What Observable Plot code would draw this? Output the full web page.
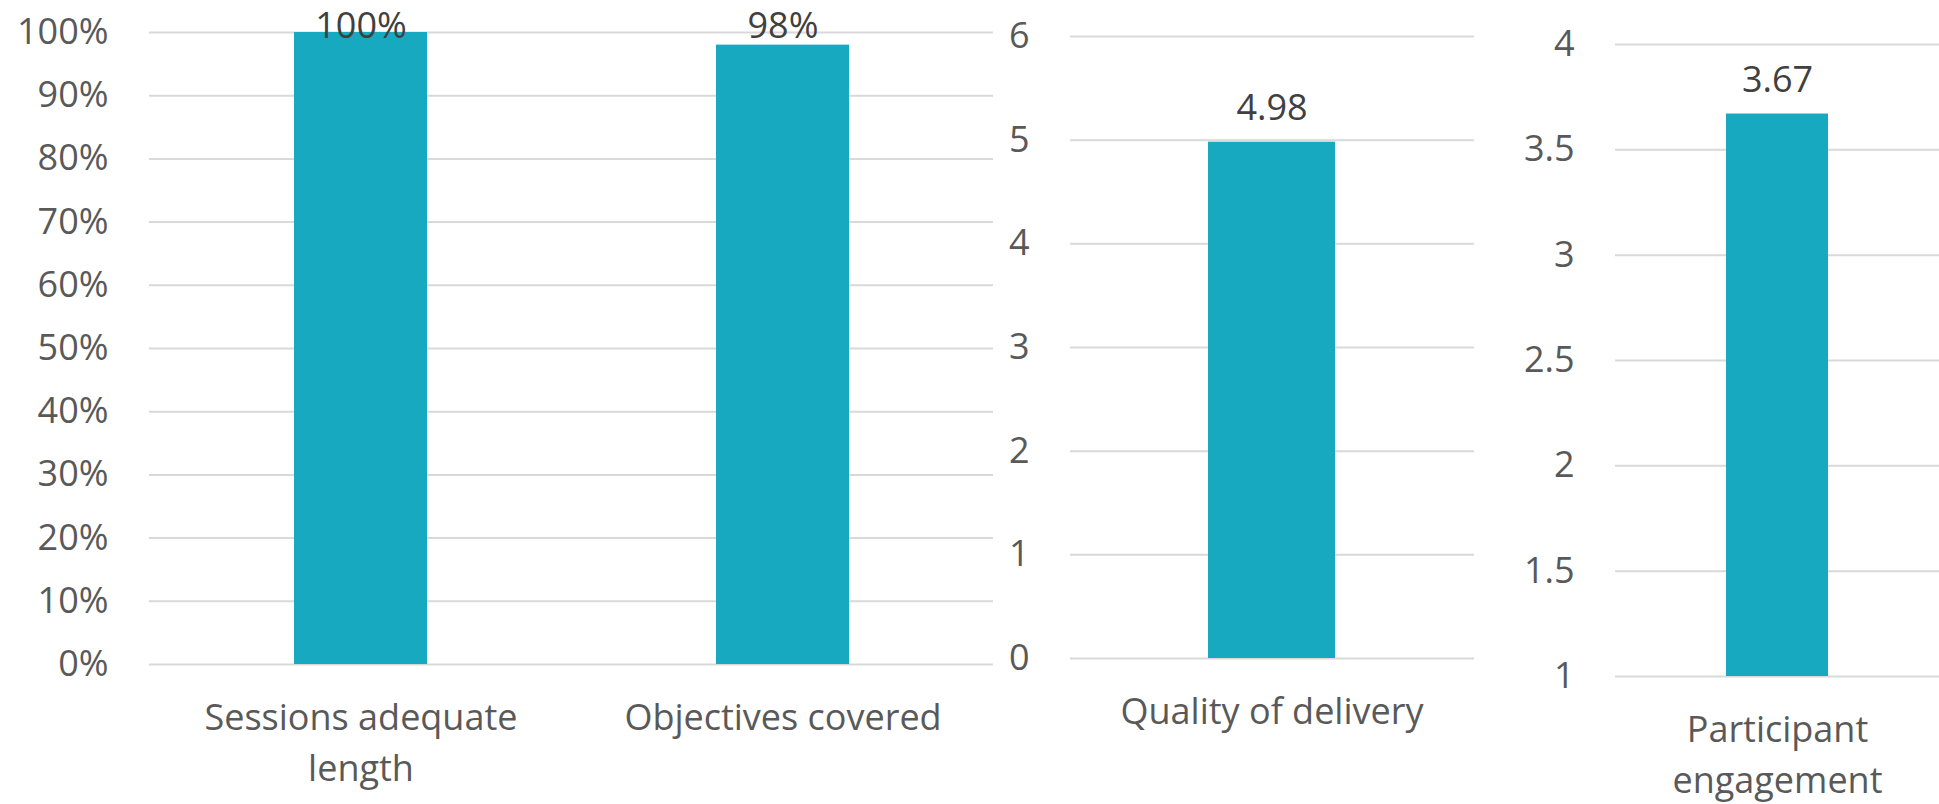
<!DOCTYPE html>
<html>
<head>
<meta charset="utf-8">
<script src="https://cdn.jsdelivr.net/npm/d3@7"></script>
<script src="https://cdn.jsdelivr.net/npm/@observablehq/plot@0.6"></script>
<style>
  html, body { margin: 0; padding: 0; background: #ffffff; }
  #chart { position: relative; width: 1939px; height: 804px; overflow: hidden; }
  #chart svg { position: absolute; top: 0; }
</style>
</head>
<body>
<div id="chart"></div>
<script>
// Session feedback: share of yes answers, and two mean ratings
const percentCategories = ["Sessions adequate length", "Objectives covered"];
const percentValues = [1.00, 0.98];
const percentTicks = [0, 0.1, 0.2, 0.3, 0.4, 0.5, 0.6, 0.7, 0.8, 0.9, 1.0];

const deliveryCategories = ["Quality of delivery"];
const deliveryValues = [4.98];
const deliveryTicks = [0, 1, 2, 3, 4, 5, 6];

const engagementCategories = ["Participant engagement"];
const engagementValues = [3.67];
const engagementTicks = [1, 1.5, 2, 2.5, 3, 3.5, 4];

// Category labels as they wrap under each bar
const categoryLabels = {
  "Sessions adequate length": "Sessions adequate\nlength",
  "Objectives covered": "Objectives covered",
  "Quality of delivery": "Quality of delivery",
  "Participant engagement": "Participant\nengagement"
};

const BAR = "#17a9bf";
const GRID = "#d9d9d9";
const AXIS_TEXT = "#595959";
const LABEL_TEXT = "#404040";
const FONT = "'Open Sans', 'Noto Sans', sans-serif";

function panel({categories, values, ticks, tickFormat, labelFormat, left, width,
                marginLeft, marginRight, marginTop, marginBottom, clampLabels}) {
  const data = categories.map((c, i) => ({category: c, value: values[i]}));
  const base = ticks[0];
  const valueLabel = clampLabels
    ? Plot.text(data, {x: "category", frameAnchor: "top", lineAnchor: "bottom", dy: 5,
                       text: d => labelFormat(d.value), fill: LABEL_TEXT})
    : Plot.text(data, {x: "category", y: "value", lineAnchor: "bottom", dy: -22,
                       text: d => labelFormat(d.value), fill: LABEL_TEXT});
  const svg = Plot.plot({
    width, height: 804,
    marginLeft, marginRight, marginTop, marginBottom,
    style: {fontFamily: FONT, fontSize: "36px", color: AXIS_TEXT, background: "transparent"},
    x: {domain: categories, paddingInner: 0.685, paddingOuter: 0.3425, axis: null},
    y: {domain: [ticks[0], ticks[ticks.length - 1]], axis: null},
    marks: [
      Plot.ruleY(ticks, {stroke: GRID, strokeWidth: 2}),
      Plot.axisY({ticks, tickFormat, tickSize: 0, tickPadding: 41, fill: AXIS_TEXT, label: null}),
      Plot.barY(data, {x: "category", y1: base, y2: "value", fill: BAR}),
      valueLabel,
      Plot.text(data, {x: "category", frameAnchor: "bottom", lineAnchor: "top", dy: 30,
                       lineHeight: 1.4, text: d => categoryLabels[d.category], fill: AXIS_TEXT})
    ]
  });
  svg.style.left = left + "px";
  document.getElementById("chart").appendChild(svg);
}

panel({
  categories: percentCategories, values: percentValues, ticks: percentTicks,
  tickFormat: d3.format(".0%"), labelFormat: d3.format(".0%"),
  left: 0, width: 1000, marginLeft: 149, marginRight: 7, marginTop: 32, marginBottom: 140,
  clampLabels: true
});

panel({
  categories: deliveryCategories, values: deliveryValues, ticks: deliveryTicks,
  tickFormat: d => String(d), labelFormat: d3.format(".2f"),
  left: 1000, width: 480, marginLeft: 70, marginRight: 6, marginTop: 36, marginBottom: 146
});

panel({
  categories: engagementCategories, values: engagementValues, ticks: engagementTicks,
  tickFormat: d => String(d), labelFormat: d3.format(".2f"),
  left: 1480, width: 459, marginLeft: 135, marginRight: 0, marginTop: 44, marginBottom: 128
});
</script>
</body>
</html>
